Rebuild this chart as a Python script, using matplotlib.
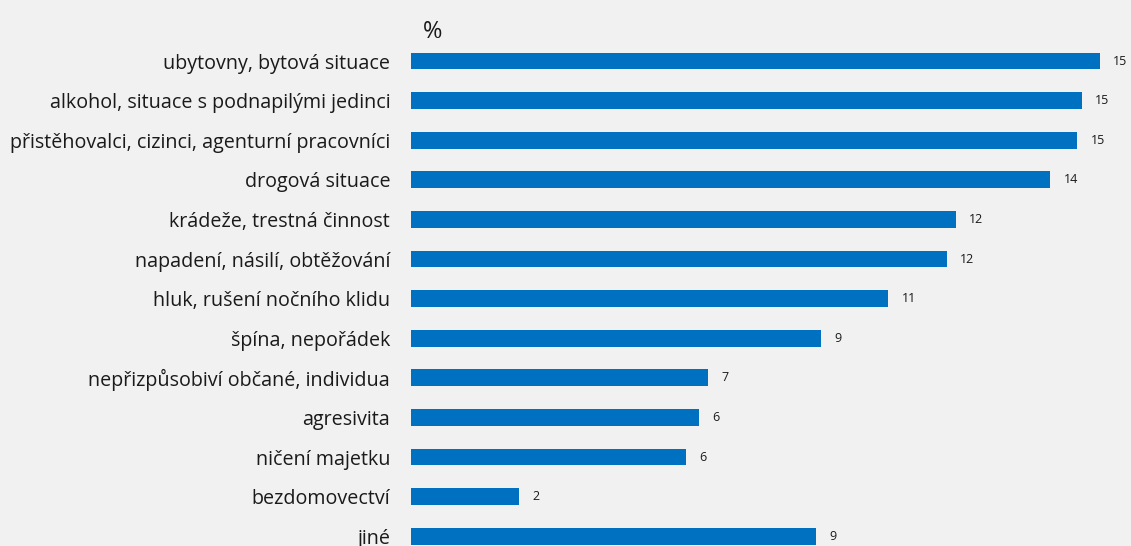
import matplotlib
matplotlib.use("Agg")
import matplotlib.pyplot as plt

categories = [
    "ubytovny, bytová situace",
    "alkohol, situace s podnapilými jedinci",
    "přistěhovalci, cizinci, agenturní pracovníci",
    "drogová situace",
    "krádeže, trestná činnost",
    "napadení, násilí, obtěžování",
    "hluk, rušení nočního klidu",
    "špína, nepořádek",
    "nepřizpůsobiví občané, individua",
    "agresivita",
    "ničení majetku",
    "bezdomovectví",
    "jiné",
]
values = [15.3, 14.9, 14.8, 14.2, 12.1, 11.9, 10.6, 9.1, 6.6, 6.4, 6.1, 2.4, 9.0]

bg = "#f1f1f1"
bar_color = "#0070c0"
text_color = "#1a1a1a"

plt.rcParams['font.family'] = ['Open Sans', 'DejaVu Sans']

W, H = 1131, 546
fig = plt.figure(figsize=(W / 100, H / 100), dpi=100, facecolor=bg)
left_px = 411
top_px = 41.2
ax = fig.add_axes([left_px / W, 0, 1 - left_px / W, (H - top_px) / H])
ax.set_facecolor(bg)

y = list(range(len(categories)))
ax.barh(y, values, height=0.42, color=bar_color)
ax.set_xlim(0, (W - left_px) / 45.0)
ax.set_ylim(12.247, -0.5)

for yi, v in zip(y, values):
    ax.text(v + 0.3, yi, f"{round(v):d}", va="center", ha="left",
            fontsize=9, color=text_color)

ax.set_yticks(y)
ax.set_yticklabels(categories, fontsize=14.2, color=text_color)
ax.tick_params(axis="y", length=0, pad=15)
ax.set_xticks([])
for s in ax.spines.values():
    s.set_visible(False)

fig.text(433 / W, 1 - 32 / H, "%", ha="center", va="center",
         fontsize=17, color=text_color)

fig.savefig("out.png", dpi=100, facecolor=bg)
